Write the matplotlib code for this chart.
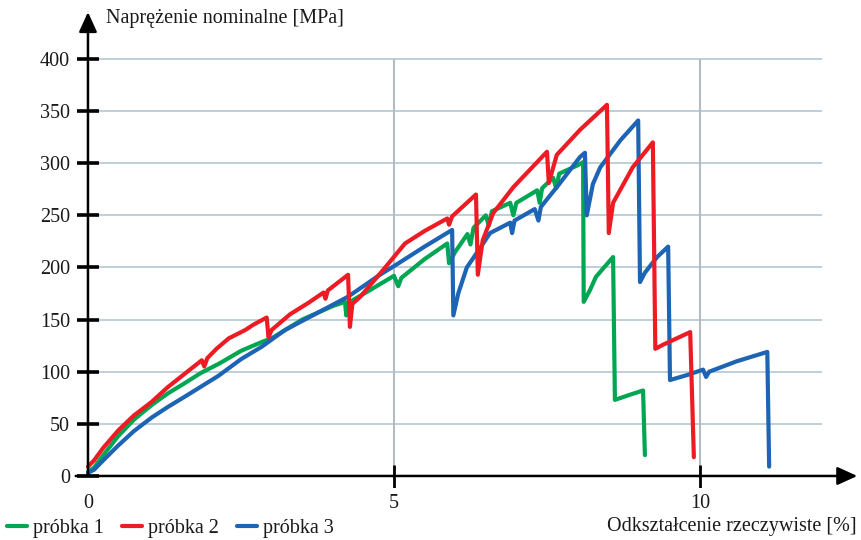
import matplotlib
matplotlib.use("Agg")
import matplotlib.pyplot as plt

plt.rcParams["font.family"] = ["Liberation Serif", "DejaVu Serif"]

# --- data (strain %, nominal stress MPa) ---
green_x = [0, 0.1, 0.25, 0.49, 0.75, 1.04, 1.3, 1.58, 1.85, 2.15, 2.5, 2.86, 3.0, 3.5, 4.0,
           4.2, 4.22, 4.25, 4.6, 5.0, 5.07, 5.12, 5.5, 5.87, 5.9, 6.0, 6.2, 6.25, 6.3, 6.5,
           6.55, 6.6, 6.9, 6.95, 7.0, 7.34, 7.38, 7.42, 7.6, 7.65, 7.7, 8.0, 8.09, 8.1, 8.2,
           8.3, 8.58, 8.61, 8.86, 9.07, 9.1]
green_y = [4, 8, 20, 38, 54, 68, 79, 89, 99, 108, 120, 129, 132, 150, 163,
           167, 154, 166, 178, 192, 182, 190, 208, 223, 204, 215, 232, 222, 238, 250,
           240, 254, 262, 250, 262, 274, 262, 276, 286, 276, 290, 298, 301, 167, 178,
           191, 210, 73, 78, 82, 20]

red_x = [0, 0.1, 0.25, 0.5, 0.75, 1.04, 1.3, 1.58, 1.86, 1.9, 1.95, 2.1, 2.3, 2.57, 2.7,
         2.92, 2.95, 3.0, 3.3, 3.6, 3.85, 3.88, 3.92, 4.25, 4.28, 4.32, 4.45, 4.8, 5.18, 5.5,
         5.87, 5.9, 5.95, 6.34, 6.37, 6.45, 6.62, 6.95, 7.5, 7.53, 7.66, 8.04, 8.48, 8.51, 8.58,
         8.9, 9.23, 9.27, 9.4, 9.84, 9.9]
red_y = [9, 15, 27, 44, 58, 71, 85, 98, 111, 105, 113, 122, 132, 140, 145,
         152, 133, 140, 155, 166, 176, 170, 178, 193, 143, 165, 172, 196, 223, 235,
         247, 241, 249, 270, 193, 226, 252, 277, 311, 281, 308, 332, 356, 233, 262,
         296, 320, 122, 126, 138, 18]

blue_x = [0, 0.1, 0.25, 0.49, 0.75, 1.04, 1.3, 1.58, 2.13, 2.5, 2.84, 3.22, 3.8, 4.25, 4.77,
          5.02, 5.5, 5.95, 5.97, 6.05, 6.19, 6.4, 6.57, 6.9, 6.93, 6.97, 7.3, 7.36, 7.4, 7.7,
          8.04, 8.12, 8.15, 8.25, 8.37, 8.7, 8.99, 9.02, 9.1, 9.3, 9.48, 9.51, 9.8, 10.05, 10.1,
          10.15, 10.6, 11.1, 11.13]
blue_y = [3, 6, 15, 29, 43, 56, 66, 76, 96, 112, 124, 140, 158, 172, 193,
          202, 220, 236, 154, 175, 200, 218, 233, 243, 233, 245, 256, 245, 258, 280,
          306, 310, 250, 280, 296, 322, 341, 186, 195, 210, 220, 92, 97, 102, 95,
          100, 110, 119, 9]

series_labels = ["próbka 1", "próbka 2", "próbka 3"]
y_ticks = [0, 50, 100, 150, 200, 250, 300, 350, 400]
x_ticks = [0, 5, 10]

GREEN, RED, BLUE = "#00a651", "#ed1c24", "#1e64b4"

fig = plt.figure(figsize=(8.61, 5.4), dpi=100)
ax = fig.add_axes([0.0844, 0.0954, 0.9134, 0.8958])
ax.set_xlim(-0.25, 12.6)
ax.set_ylim(-12, 452)
for s in ax.spines.values():
    s.set_visible(False)

# --- grid (custom extents) ---
ax.hlines(y_ticks[1:], 0, 12, color="#b9ccd8", lw=1.3, zorder=0)
ax.vlines([5, 10], 0, 400, color="#b3bcc4", lw=1.5, zorder=0)

# --- curves ---
kw = dict(lw=3.0, solid_joinstyle="round", solid_capstyle="round")
l1, = ax.plot(green_x, green_y, color=GREEN, zorder=3, **kw)
l3, = ax.plot(blue_x, blue_y, color=BLUE, zorder=4, **kw)
l2, = ax.plot(red_x, red_y, color=RED, zorder=5, **kw)

# --- hand-drawn axes with arrows ---
head = "-|>,head_length=0.55,head_width=0.25"
ax.annotate("", xy=(12.57, 0), xytext=(-0.2, 0),
            arrowprops=dict(arrowstyle=head, color="k", lw=1.8, mutation_scale=22,
                            shrinkA=0, shrinkB=0), zorder=6)
ax.annotate("", xy=(0, 445), xytext=(0, 0),
            arrowprops=dict(arrowstyle=head, color="k", lw=1.8, mutation_scale=22,
                            shrinkA=0, shrinkB=0), zorder=6)
ax.hlines(y_ticks, -0.18, 0.18, color="k", lw=2.6, zorder=6)
ax.vlines(x_ticks[1:], -12, 11, color="k", lw=2.0, zorder=6)

ax.set_yticks(y_ticks)
ax.set_xticks(x_ticks)
ax.tick_params(length=0, labelsize=14.5, colors="#1a1a1a")
ax.tick_params(axis="y", pad=2)
ax.tick_params(axis="x", pad=4)

fig.text(106 / 861, 1 - 18 / 540, "Naprężenie nominalne [MPa]",
         fontsize=14.5, ha="left", va="center", color="#1a1a1a")
fig.text(857 / 861, 1 - 527 / 540, "Odkształcenie rzeczywiste [%]",
         fontsize=14.5, ha="right", va="center", color="#1a1a1a")

leg = fig.legend([l1, l2, l3], series_labels, loc="lower left",
                 bbox_to_anchor=(0.008, 0.003), ncol=3, frameon=False, fontsize=14.5,
                 handlelength=1.0, handletextpad=0.3, columnspacing=0.9,
                 borderpad=0, borderaxespad=0)
for t in leg.get_texts():
    t.set_color("#1a1a1a")

fig.savefig("out.png", dpi=100, facecolor="white")
